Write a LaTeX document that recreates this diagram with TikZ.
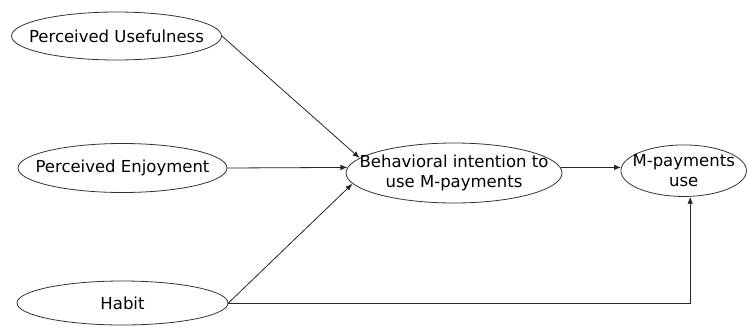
\documentclass[tikz,border=0pt]{standalone}
\usepackage{fontspec}
\setmainfont{DejaVu Sans}
\usetikzlibrary{shapes.geometric,arrows.meta}
\begin{document}
\begin{tikzpicture}[x=1pt,y=1pt,
  construct/.style={ellipse,draw=black!80,line width=0.8pt,inner sep=0pt},
  caption/.style={font=\fontsize{16.5}{20}\selectfont,align=center,text=black,inner sep=0pt},
  link/.style={draw=black!85,line width=0.8pt,-{Latex[length=7pt,width=5.5pt]}}]
\useasboundingbox (0,0) rectangle (747,-327);
\node[construct,minimum width=210pt,minimum height=48pt,
  label={[caption]center:Perceived Usefulness}] (PU) at (116.5,-36) {};
\node[construct,minimum width=209pt,minimum height=49pt,
  label={[caption]center:Perceived Enjoyment}] (PE) at (122.5,-168) {};
\node[construct,minimum width=211pt,minimum height=44pt,
  label={[caption]center:Habit}] (HB) at (122.5,-303) {};
\node[construct,minimum width=216pt,minimum height=60pt,
  label={[caption]center:{Behavioral intention to\\use M-payments}}] (BI) at (454,-173) {};
\node[construct,minimum width=125.5pt,minimum height=51.5pt,
  label={[caption]center:{M-payments\\use}}] (MU) at (683.7,-170.7) {};
\draw[link] (PU.east) -- (BI.171);
\draw[link] (PE.east) -- (BI.177);
\draw[link] (HB.east) -- (BI.186);
\draw[link] (BI.3) -- (MU.177);
\draw[link] (HB.east) -| (MU.284);
\end{tikzpicture}
\end{document}
